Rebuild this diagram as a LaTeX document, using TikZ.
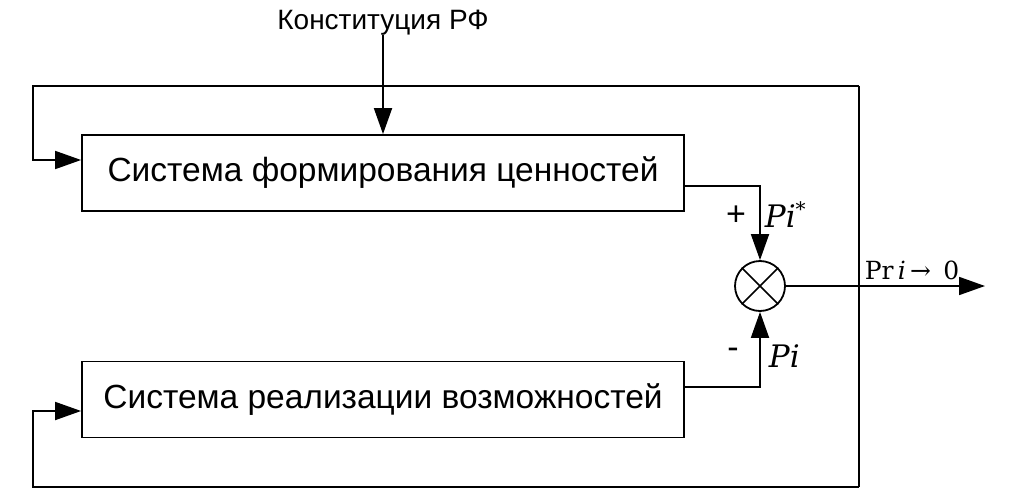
\documentclass[tikz,border=0pt]{standalone}
\usepackage{fontspec}
\setmainfont{Liberation Sans}
\newfontfamily\mathserif{DejaVu Serif}
\usetikzlibrary{arrows.meta}
\begin{document}
\begin{tikzpicture}[x=1pt,y=-1pt,
  line width=1.8pt,
  arr/.style={-{Triangle[length=26pt,width=18pt]}},
  blk/.style={draw,minimum width=602pt,minimum height=76pt,inner sep=0pt,font=\fontsize{33.5}{38}\selectfont},
  lbl/.style={inner sep=0pt,font=\fontsize{31}{34}\selectfont\mathserif\itshape}]
\useasboundingbox (0,0) rectangle (1016,492);
\node[blk] (top) at (383,173) {Система формирования ценностей};
\node[blk] (bot) at (383,399.5) {Система реализации возможностей};
\node[draw,circle,minimum size=50pt,inner sep=0pt] (sum) at (760,286) {};
\draw[line width=1.6pt] (sum.45) -- (sum.225) (sum.135) -- (sum.315);
\node[inner sep=0pt,anchor=base,font=\fontsize{28}{32}\selectfont] (konst) at (383,30) {Конституция РФ};
\coordinate (kstart) at (383,35);
\draw[arr] (kstart) -- (top.north -| kstart);
\coordinate (tr) at (859,86);
\coordinate (br) at (859,487);
\coordinate (tl) at (33,86);
\coordinate (bl) at (33,487);
\draw (tr) -- (br);
\draw[arr] (tr) -- (tl) -- (33,160) -- (top.west |- 0,160);
\draw[arr] (br) -- (bl) -- (33,411) -- (bot.west |- 0,411);
\draw[arr] (top.east |- 0,186) -| (sum.north);
\draw[arr] (bot.east |- 0,387) -| (sum.south);
\coordinate (out) at (985,286);
\draw[arr] (sum.east) -- (out);
\node[inner sep=0pt,font=\fontsize{34}{38}\selectfont] (plus) at (736,216) {+};
\node[inner sep=0pt,font=\fontsize{34}{38}\selectfont] (minus) at (733,353) {-};
\node[lbl,anchor=base west] (pistar) at (764,227) {Pi\raisebox{11pt}{\fontsize{20}{22}\selectfont\upshape *}};
\node[lbl,anchor=base west] (pi) at (768,367) {Pi};
\node[inner sep=0pt,anchor=base west,font=\fontsize{25}{28}\selectfont\mathserif] (pri) at (864,279) {Pr\,\textit{i}\,→\enspace0};
\end{tikzpicture}
\end{document}
